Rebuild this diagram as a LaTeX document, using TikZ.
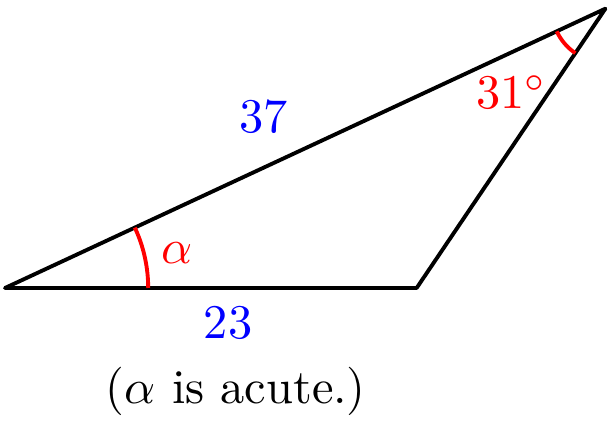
\documentclass[tikz,border=0pt]{standalone}
\usepackage{amsmath}
\usepackage{xcolor}
\usepackage{tikz}
\usetikzlibrary{calc}
\tikzset{
  sideline/.style = {
    thick,
    draw=black,
    line join=round
  },
  anglearc/.style = {
    thick,
    draw=red
  },
  sidelabel/.style = {
    text=blue
  },
  anglelabel/.style = {
    text=red
  },
  notelabel/.style = {
    text=black
  }
}

\begin{document}
\begin{tikzpicture}[x=0.13cm, y=0.13cm]
  \useasboundingbox (-0.28, -7.43) rectangle (33.97, 16.09);

  % Vertices
  \coordinate (A) at (0, 0);
  \coordinate (B) at (23, 0);
  \coordinate (C) at (24.95:37);

  % Triangle
  \draw[sideline] (A) -- (B) -- (C) -- cycle;

  % Angle marks
  \draw[anglearc] ($(A)+(8,0)$) arc[start angle=0, end angle=24.95, radius=8];
  \draw[anglearc] ($(C)+(204.95:3)$) arc[start angle=204.95, end angle=235.95, radius=3];

  % Labels
  \node[sidelabel] (lenac) at (14.47, 9.55) {$37$};
  \node[sidelabel] (lenab) at (12.46, -1.96) {$23$};
  \node[anglelabel] (alpha) at (9.6, 1.96) {$\alpha$};
  \node[anglelabel] (gamma) at (28.3, 10.95) {$31^\circ$};
  \node[notelabel] (note) at (12.9, -5.8) {($\alpha$ is acute.)};
\end{tikzpicture}
\end{document}
